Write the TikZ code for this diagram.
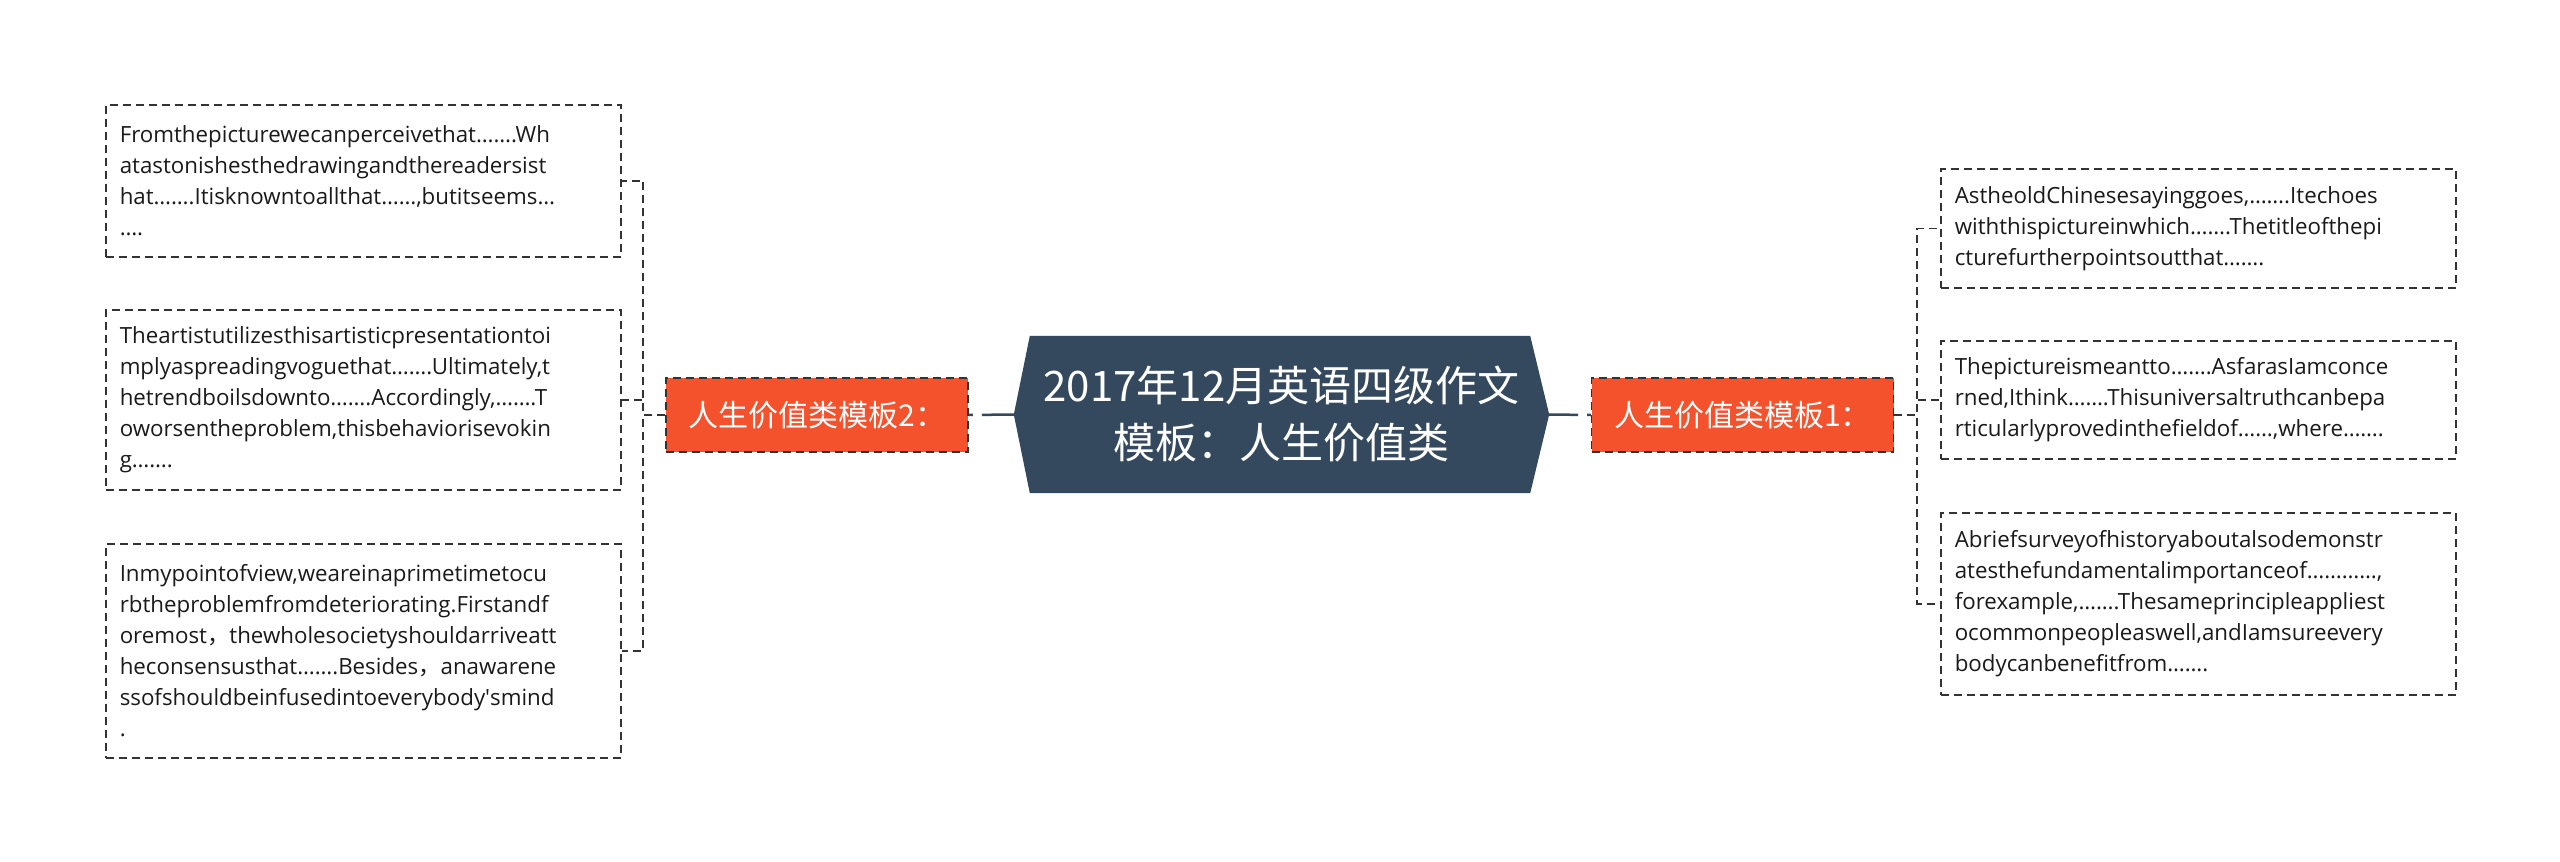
\documentclass[tikz,border=0pt]{standalone}
\usepackage{fontspec}
\setmainfont{Open Sans}
\newfontfamily\cjk{Noto Sans CJK SC}
\usetikzlibrary{backgrounds}
\definecolor{orangeN}{RGB}{244,82,44}
\definecolor{slate}{RGB}{52,73,94}
\definecolor{dashc}{RGB}{51,51,51}
\definecolor{txt}{RGB}{26,26,26}
\hyphenpenalty=10000
\begin{document}
\begin{tikzpicture}[x=1pt,y=-1pt,
  leaf/.style={draw=dashc, line width=1.5pt, dash pattern=on 8pt off 5pt,
    anchor=north west, text width=487pt, inner xsep=14pt, inner ysep=0pt,
    align=left, text=txt,
    font=\fontsize{22.3}{31}\selectfont},
  mid/.style={fill=orangeN, draw=dashc, line width=1.5pt, dash pattern=on 8pt off 5pt,
    minimum width=302pt, minimum height=74pt, inner sep=0pt, text=white,
    font=\cjk\fontsize{30}{36}\selectfont},
  link/.style={draw=dashc, line width=1.5pt, dash pattern=on 8pt off 5pt},
  trunk/.style={draw=slate, line width=2.5pt}
]
\useasboundingbox (0,0) rectangle (2560,862);

% central node
\node[minimum width=535pt, minimum height=157pt, inner sep=0pt, text=white, align=center,
  font=\cjk\fontsize{42}{57}\selectfont] (c) at (1281.5,414.5)
  {2017年12月英语四级作文\\模板：人生价值类};
\begin{scope}[on background layer]
\fill[white] (0,0) rectangle (2560,862);
\fill[slate] (c.west) -- ([xshift=16pt]c.north west) -- ([xshift=-19pt]c.north east)
  -- (c.east) -- ([xshift=-19pt]c.south east) -- ([xshift=16pt]c.south west) -- cycle;
\end{scope}

% second level
\node[mid] (o2) at (817,415) {人生价值类模板2：};
\node[mid] (o1) at (1742.5,415) {人生价值类模板1：};

\draw[trunk, dash pattern=on 32pt off 9pt on 5pt off 100pt] (c.west) -- (o2.east);
\draw[trunk, dash pattern=on 29pt off 9pt on 4pt off 100pt] (c.east) -- (o1.west);

% left leaves
\node[leaf, minimum height=152pt] (l1) at (105,104)
 {Fromthepicturewecanperceivethat…….Wh\\atastonishesthedrawingandthereadersist\\hat…….Itisknowntoallthat……,butitseems…\\….};
\node[leaf, minimum height=180pt] (l2) at (105,309)
 {Theartistutilizesthisartisticpresentationtoi\\mplyaspreadingvoguethat…….Ultimately,t\\hetrendboilsdownto…….Accordingly,…….T\\oworsentheproblem,thisbehaviorisevokin\\g…….};
\node[leaf, minimum height=214pt] (l3) at (105,543)
 {Inmypointofview,weareinaprimetimetocu\\rbtheproblemfromdeteriorating.Firstandf\\oremost{\cjk ，}thewholesocietyshouldarriveatt\\heconsensusthat…….Besides{\cjk ，}anawarene\\ssofshouldbeinfusedintoeverybody\textquotesingle smind\\.};

% right leaves
\node[leaf, minimum height=119pt] (r1) at (1940,168)
 {AstheoldChinesesayinggoes,…….Itechoes\\withthispictureinwhich…….Thetitleofthepi\\cturefurtherpointsoutthat…….};
\node[leaf, minimum height=118pt] (r2) at (1940,340)
 {Thepictureismeantto…….AsfarasIamconce\\rned,Ithink…….Thisuniversaltruthcanbepa\\rticularlyprovedinthefieldof……,where…….};
\node[leaf, minimum height=182pt] (r3) at (1940,512)
 {Abriefsurveyofhistoryaboutalsodemonstr\\atesthefundamentalimportanceof…………,\\forexample,…….Thesameprincipleappliest\\ocommonpeopleaswell,andIamsureevery\\bodycanbenefitfrom…….};

% brackets
\coordinate (lbx) at (643,415);
\coordinate (rbx) at (1917,415);
\foreach \n in {l1,l2,l3} \draw[link] (o2.west) -- (lbx) |- (\n.east);
\foreach \n in {r1,r2,r3} \draw[link] (o1.east) -- (rbx) |- (\n.west);
\end{tikzpicture}
\end{document}
